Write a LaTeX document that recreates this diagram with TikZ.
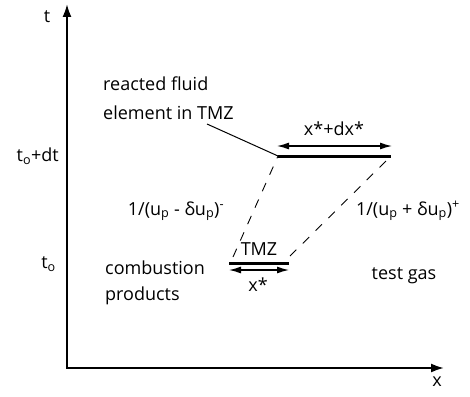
\documentclass[tikz,border=0pt]{standalone}
\usepackage{fontspec}
\setmainfont{Open Sans}
\usetikzlibrary{arrows.meta}
\begin{document}
\begin{tikzpicture}[x=1pt,y=-1pt,
  lbl/.style={inner sep=0pt,font=\fontsize{18}{29}\selectfont},
  axis/.style={line width=2pt,-{Latex[length=13pt,width=9pt]}},
  bar/.style={line width=3pt},
  dim/.style={line width=1.3pt,{Latex[length=12pt,width=7pt]}-{Latex[length=12pt,width=7pt]}},
  path/.style={line width=0.9pt,dash pattern=on 9pt off 9pt},
  lead/.style={line width=1pt}]
\useasboundingbox (0,0) rectangle (470,396);
\coordinate (O) at (67,368);
\coordinate (T) at (67,4);
\coordinate (X) at (444,368);
\draw[axis] (O) -- (T);
\draw[axis] ([xshift=-1pt]O) -- (X);
\node[lbl] (tl) at (47,17) {t};
\node[lbl] (xl) at (437,382) {x};
% levels
\node[lbl,anchor=east] (tdt) at (59,156) {t\textsubscript{o}+dt};
\node[lbl,anchor=east] (to) at (56,264) {t\textsubscript{o}};
% top bar
\coordinate (A1) at (278,156);
\coordinate (A2) at (391,156);
\draw[bar] (A1) -- (A2);
\coordinate (D1) at (277,146);
\coordinate (D2) at (392,146);
\draw[dim] (D1) -- (D2);
\node[lbl] (dxl) at (334,129) {x*+dx*};
% bottom bar
\coordinate (B1) at (229,263);
\coordinate (B2) at (289,263);
\draw[bar] (B1) -- (B2);
\coordinate (E1) at (229,270);
\coordinate (E2) at (289,270);
\draw[dim] (E1) -- (E2);
\node[lbl] (tmz) at (259,249) {TMZ};
\node[lbl] (xs) at (258,285) {x*};
% dashed paths
\coordinate (P1) at (233,257);
\coordinate (P2) at (290,256);
\draw[path] (P1) -- (A1);
\draw[path] (P2) -- (A2);
% annotation
\node[lbl,anchor=west] (rf1) at (103,84) {reacted fluid};
\node[lbl,anchor=west] (rf2) at (103,113) {element in TMZ};
\coordinate (L0) at (207,124);
\draw[lead] (L0) -- (A1);
\node[lbl] (sl1) at (176,211) {1/(u\textsubscript{p} - δu\textsubscript{p})\textsuperscript{-}};
\node[lbl] (sl2) at (408,211) {1/(u\textsubscript{p} + δu\textsubscript{p})\textsuperscript{+}};
\node[lbl,anchor=west] (cp1) at (105,268) {combustion};
\node[lbl,anchor=west] (cp2) at (105,296) {products};
\node[lbl] (tg) at (404,276) {test gas};
\end{tikzpicture}
\end{document}
